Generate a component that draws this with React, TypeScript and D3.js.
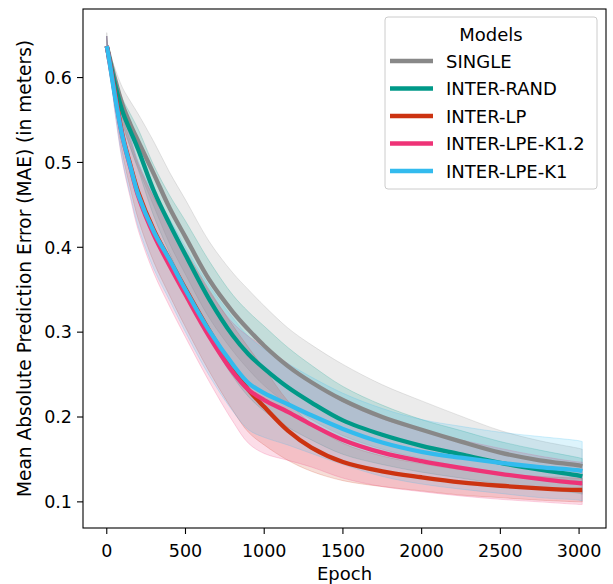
import React from "react";
import * as d3 from "d3";

const epochs = [0, 10, 50, 100, 150, 200, 300, 400, 500, 650, 800, 900, 1000, 1150, 1300, 1500, 1750, 2000, 2250, 2500, 2750, 3000, 3020];

const singleMean = [0.637, 0.630, 0.600, 0.568, 0.545, 0.525, 0.486, 0.446, 0.412, 0.362, 0.324, 0.303, 0.284, 0.260, 0.241, 0.220, 0.200, 0.185, 0.171, 0.158, 0.149, 0.143, 0.142];
const singleDev = [0.016, 0.004, 0.012, 0.020, 0.027, 0.032, 0.038, 0.042, 0.044, 0.045, 0.046, 0.047, 0.047, 0.045, 0.044, 0.042, 0.038, 0.034, 0.030, 0.026, 0.023, 0.020, 0.020];

const randMean = [0.637, 0.628, 0.594, 0.560, 0.537, 0.515, 0.466, 0.427, 0.391, 0.339, 0.296, 0.274, 0.257, 0.235, 0.217, 0.196, 0.179, 0.166, 0.156, 0.146, 0.138, 0.131, 0.130];
const randDev = [0.012, 0.004, 0.010, 0.015, 0.020, 0.024, 0.030, 0.034, 0.040, 0.045, 0.048, 0.050, 0.050, 0.047, 0.044, 0.040, 0.035, 0.031, 0.028, 0.025, 0.023, 0.021, 0.021];

const lpMean = [0.637, 0.628, 0.584, 0.532, 0.497, 0.465, 0.420, 0.385, 0.351, 0.302, 0.258, 0.232, 0.212, 0.184, 0.164, 0.147, 0.136, 0.129, 0.123, 0.119, 0.116, 0.114, 0.114];
const lpDev = [0.012, 0.004, 0.015, 0.022, 0.028, 0.032, 0.038, 0.042, 0.045, 0.048, 0.050, 0.050, 0.045, 0.035, 0.028, 0.022, 0.018, 0.016, 0.015, 0.014, 0.014, 0.014, 0.014];

const k12Mean = [0.637, 0.627, 0.582, 0.530, 0.494, 0.460, 0.414, 0.378, 0.344, 0.295, 0.253, 0.232, 0.220, 0.206, 0.191, 0.173, 0.158, 0.148, 0.140, 0.133, 0.127, 0.122, 0.122];
const k12Dev = [0.012, 0.004, 0.020, 0.030, 0.036, 0.040, 0.045, 0.048, 0.050, 0.053, 0.058, 0.063, 0.063, 0.057, 0.050, 0.045, 0.040, 0.036, 0.033, 0.030, 0.027, 0.025, 0.025];

const k1Mean = [0.637, 0.627, 0.580, 0.530, 0.495, 0.462, 0.418, 0.385, 0.350, 0.302, 0.262, 0.240, 0.228, 0.215, 0.202, 0.186, 0.170, 0.159, 0.152, 0.146, 0.141, 0.137, 0.136];
const k1Dev = [0.012, 0.004, 0.018, 0.028, 0.034, 0.038, 0.044, 0.048, 0.050, 0.053, 0.055, 0.055, 0.052, 0.048, 0.045, 0.042, 0.040, 0.038, 0.037, 0.036, 0.036, 0.035, 0.035];

const modelNames = ["SINGLE", "INTER-RAND", "INTER-LP", "INTER-LPE-K1.2", "INTER-LPE-K1"];
const modelColors = ["#888888", "#009988", "#cc3311", "#ee3377", "#33bbee"];
const means = [singleMean, randMean, lpMean, k12Mean, k1Mean];
const devs = [singleDev, randDev, lpDev, k12Dev, k1Dev];

const xTicks = [0, 500, 1000, 1500, 2000, 2500, 3000];
const yTicks = [0.1, 0.2, 0.3, 0.4, 0.5, 0.6];

const W = 613;
const H = 584;
const L = 83, R = 606, T = 9, B = 528;
const FONT = "DejaVu Sans";

export default function App() {
  const allLo: number[] = [];
  const allHi: number[] = [];
  means.forEach((m, i) => m.forEach((v, j) => { allLo.push(v - devs[i][j]); allHi.push(v + devs[i][j]); }));
  const xMin = d3.min(epochs)!, xMax = d3.max(epochs)!;
  const yMin = d3.min(allLo)!, yMax = d3.max(allHi)!;
  const xm = (xMax - xMin) * 0.05, ym = (yMax - yMin) * 0.05;
  const x = d3.scaleLinear().domain([xMin - xm, xMax + xm]).range([L, R]);
  const y = d3.scaleLinear().domain([yMin - ym, yMax + ym]).range([B, T]);

  const curve = d3.curveCatmullRom.alpha(0.5);
  const line = d3.line<[number, number]>().x(d => x(d[0])).y(d => y(d[1])).curve(curve);
  const area = d3.area<[number, number, number]>().x(d => x(d[0])).y0(d => y(d[1])).y1(d => y(d[2])).curve(curve);

  const legendX = 385, legendY = 17, legendW = 212, legendH = 172;
  const entryY = (i: number) => 61 + i * 27.5;

  return (
    <svg width={W} height={H} style={{ position: "absolute", left: 0, top: 0, background: "#fff" }} fontFamily={FONT}>
      <rect x={0} y={0} width={W} height={H} fill="#fff" />
      <defs>
        <clipPath id="plotclip"><rect x={L} y={T} width={R - L} height={B - T} /></clipPath>
      </defs>
      <g clipPath="url(#plotclip)">
        {means.map((m, i) => {
          const band = epochs.map((e, j) => [e, m[j] - devs[i][j], m[j] + devs[i][j]] as [number, number, number]);
          return (
            <path key={"band" + modelNames[i]} d={area(band)!} fill={modelColors[i]} fillOpacity={0.17} stroke={modelColors[i]} strokeOpacity={0.2} strokeWidth={1} />
          );
        })}
        {means.map((m, i) => {
          const pts = epochs.map((e, j) => [e, m[j]] as [number, number]);
          return (
            <path key={"line" + modelNames[i]} d={line(pts)!} fill="none" stroke={modelColors[i]} strokeWidth={4.3} strokeLinejoin="round" />
          );
        })}
      </g>
      <rect x={L} y={T} width={R - L} height={B - T} fill="none" stroke="#000" strokeWidth={1.1} />
      {xTicks.map(t => (
        <g key={"x" + t}>
          <line x1={x(t)} x2={x(t)} y1={B} y2={B + 6} stroke="#000" strokeWidth={1.1} />
          <text x={x(t)} y={557} textAnchor="middle" fontSize={17.5} fill="#000">{t}</text>
        </g>
      ))}
      {yTicks.map(t => (
        <g key={"y" + t}>
          <line x1={L - 6} x2={L} y1={y(t)} y2={y(t)} stroke="#000" strokeWidth={1.1} />
          <text x={72} y={y(t) + 6.3} textAnchor="end" fontSize={17.5} fill="#000">{t.toFixed(1)}</text>
        </g>
      ))}
      <text x={(L + R) / 2} y={580} textAnchor="middle" fontSize={18} fill="#000">Epoch</text>
      <text transform={`translate(31,${(T + B) / 2}) rotate(-90)`} textAnchor="middle" fontSize={18.6} fill="#000">
        Mean Absolute Prediction Error (MAE) (in meters)
      </text>
      <rect x={legendX} y={legendY} width={legendW} height={legendH} rx={3} fill="#fff" fillOpacity={0.8} stroke="#cccccc" strokeWidth={1} />
      <text x={legendX + legendW / 2} y={41} textAnchor="middle" fontSize={18} fill="#000">Models</text>
      {modelNames.map((n, i) => (
        <g key={"leg" + n}>
          <line x1={390} x2={433} y1={entryY(i)} y2={entryY(i)} stroke={modelColors[i]} strokeWidth={4.3} />
          <text x={446} y={entryY(i) + 6.5} fontSize={18} fill="#000">{n}</text>
        </g>
      ))}
    </svg>
  );
}
